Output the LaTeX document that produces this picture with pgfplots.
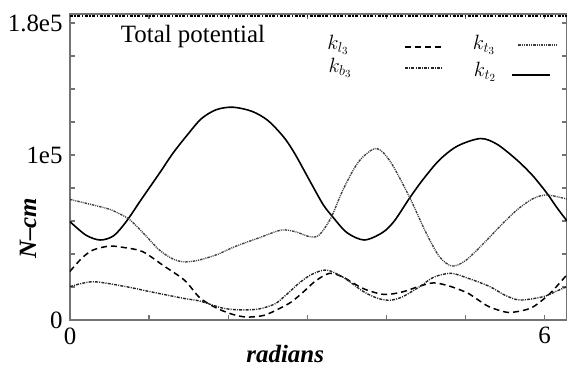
\documentclass[border=0pt]{standalone}
\usepackage{pgfplots}
\pgfplotsset{compat=1.18}
\usepackage{fontspec}
\setmainfont{Liberation Serif}

\pgfplotstableread{
x y
0 59600
0.2 51500
0.38 48500
0.55 51000
0.71 59600
0.9 73000
1.13 88900
1.3 101000
1.48 112000
1.66 122000
1.85 127500
2.06 129000
2.3 126500
2.5 121000
2.7 111000
2.84 101000
3.03 84500
3.2 70000
3.32 62600
3.5 53000
3.72 48500
3.95 53000
4.1 60000
4.29 73700
4.46 85000
4.67 97000
4.9 105500
5.19 110000
5.4 106500
5.65 97000
5.85 87500
6.03 76800
6.15 68500
6.2832 60000
}\kttwo

\pgfplotstableread{
x y
0 73100
0.46 67700
0.6 65000
0.76 60600
0.95 51500
1.13 42400
1.3 37000
1.43 35300
1.6 36000
1.85 39500
2.08 44400
2.4 50000
2.67 54500
2.85 53500
3.03 50500
3.15 51500
3.3 62000
3.45 78800
3.65 96000
3.87 104000
4.05 96000
4.29 74700
4.5 53000
4.67 38400
4.83 32700
5.0 36000
5.23 46500
5.45 57500
5.65 66700
5.85 73500
6.03 75800
6.2832 73300
}\ktthree

\pgfplotstableread{
x y
0 29500
0.15 37500
0.29 42400
0.5 44800
0.7 43800
0.92 41400
1.18 33000
1.45 24000
1.64 13500
1.85 7300
2.05 3500
2.23 1800
2.45 2800
2.65 7000
2.8 11000
2.95 17000
3.1 23500
3.28 28300
3.45 26000
3.71 19000
3.97 15500
4.2 17000
4.42 20500
4.6 22500
4.8 20500
5.02 16500
5.15 12500
5.3 8000
5.52 4700
5.7 5500
5.86 8100
6.07 16200
6.2832 27500
}\klthree

\pgfplotstableread{
x y
0 20200
0.29 23200
0.71 20200
1.01 17200
1.45 13000
1.64 11500
1.94 7100
2.19 6100
2.4 6800
2.6 10000
2.75 16000
2.9 22500
3.05 27500
3.24 30300
3.45 26000
3.71 17200
3.9 13000
4.05 12000
4.2 14000
4.42 20200
4.6 26000
4.82 28300
5.05 25000
5.31 20200
5.5 15000
5.69 12100
5.98 14100
6.15 17500
6.2832 20200
}\kbthree

\begin{document}
\fontsize{25}{29}\selectfont
\begin{tikzpicture}
\begin{axis}[
  at={(0,0)}, anchor=south west,
  scale only axis, width=497bp, height=306bp,
  xmin=0, xmax=6.2832, ymin=0, ymax=185500,
  xtick={0,6}, xticklabels={\textrm{0},\textrm{6}},
  minor xtick={1,2,3,4,5},
  ytick={0,100000,180000}, yticklabels={\textrm{0},\textrm{1e5},\textrm{1.8e5}},
  minor ytick={20000,40000,60000,80000,120000,140000,160000},
  scaled ticks=false,
  tick align=inside, major tick length=5bp, minor tick length=5bp,
  axis line style={black!55, line width=1.2bp},
  every tick/.style={black!55, line width=1.2bp},
  tick label style={font=\fontsize{25}{29}\selectfont},
  xticklabel style={yshift=1bp},
  yticklabel style={xshift=1bp},
  xlabel={\textbf{\textit{radians}}},
  ylabel={\textbf{\textit{N--cm}}},
  xlabel style={at={(axis description cs:0.433,0)}, anchor=base, yshift=-42bp, font=\fontsize{25}{29}\selectfont},
  ylabel style={at={(axis description cs:0,0.30)}, anchor=center, yshift=42bp, font=\fontsize{25}{29}\selectfont},
  clip=true,
]
\addplot[black, line width=1.5bp, dash pattern=on 3bp off 1.5bp on 1.5bp off 1.5bp] coordinates {(0,184200) (6.2832,184200)};
\addplot[black, line width=1.6bp, smooth] table {\kttwo};
\addplot[black!75, line width=1.4bp, smooth, dash pattern=on 2.5bp off 1bp on 1bp off 1bp on 1bp off 1bp] table {\ktthree};
\addplot[black, line width=1.5bp, smooth, dash pattern=on 6bp off 4bp] table {\klthree};
\addplot[black!85, line width=1.4bp, smooth, dash pattern=on 3bp off 1.2bp on 1bp off 1.2bp] table {\kbthree};
\end{axis}
\node[font=\fontsize{25}{29}\selectfont] at (123bp,283bp) {Total potential};
\node[font=\fontsize{22}{25}\selectfont] at (268bp,275bp) {$k_{l_3}$};
\draw[black, line width=1.5bp, dash pattern=on 6bp off 4bp] (335bp,273bp) -- (373bp,273bp);
\node[font=\fontsize{22}{25}\selectfont] at (414bp,275bp) {$k_{t_3}$};
\draw[black!75, line width=1.4bp, dash pattern=on 2.5bp off 1bp on 1bp off 1bp on 1bp off 1bp] (448bp,275bp) -- (487bp,275bp);
\node[font=\fontsize{22}{25}\selectfont] at (270bp,252bp) {$k_{b_3}$};
\draw[black!85, line width=1.4bp, dash pattern=on 3bp off 1.2bp on 1bp off 1.2bp] (335bp,252bp) -- (373bp,252bp);
\node[font=\fontsize{22}{25}\selectfont] at (415bp,248bp) {$k_{t_2}$};
\draw[black, line width=1.6bp] (442bp,245bp) -- (480bp,245bp);
\pgfresetboundingbox
\path (-70bp,-46bp) rectangle (497bp,320bp);
\end{tikzpicture}
\end{document}
